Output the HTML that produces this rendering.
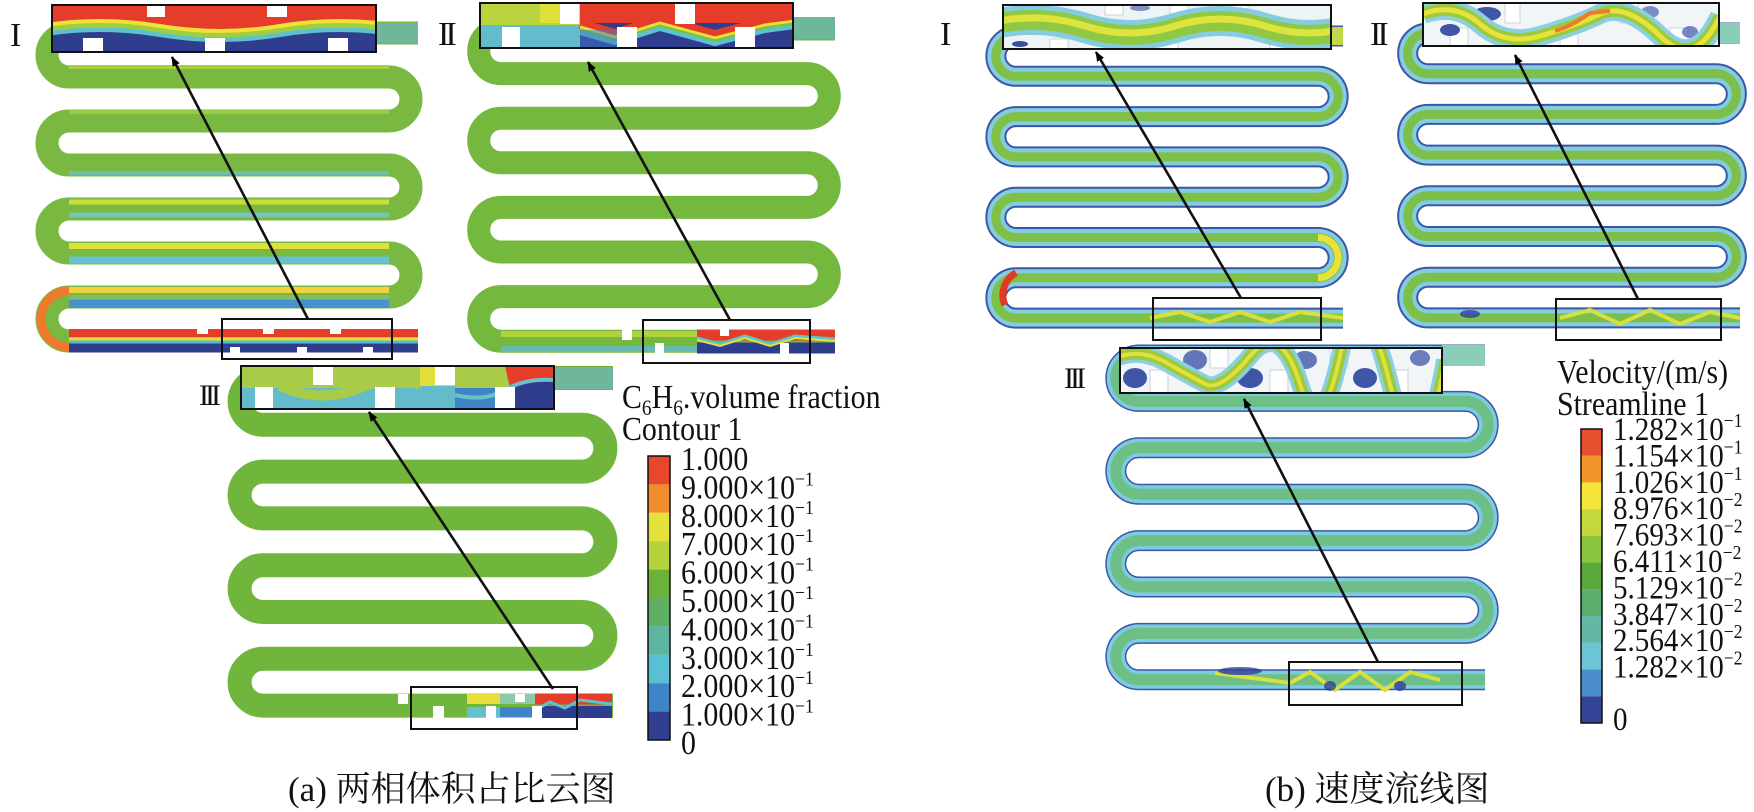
<!DOCTYPE html>
<html><head><meta charset="utf-8"><style>
html,body{margin:0;padding:0;background:#fff;}
svg{display:block;}
text{font-family:"Liberation Serif","Noto Serif CJK SC",serif;fill:#111;}
.cap{font-family:"Liberation Serif","Noto Serif CJK SC",serif;}
</style></head><body>
<svg width="1754" height="812" viewBox="0 0 1754 812" xmlns="http://www.w3.org/2000/svg">
<defs>
<marker id="ah" markerWidth="10" markerHeight="10" refX="9" refY="5" orient="auto" markerUnits="userSpaceOnUse">
<path d="M0,1 L10,5 L0,9 L2.5,5 Z" fill="#000" transform="scale(1.6) translate(-3.8,-1.9)"/>
</marker>
<path id="paI" d="M418 33 H69 A22 22 0 0 0 69 77 H389 A22 22 0 0 1 389 121 H69 A22 22 0 0 0 69 165 H389 A22 22 0 0 1 389 209 H69 A22 22 0 0 0 69 253 H389 A22 22 0 0 1 389 297 H69 A22 22 0 0 0 69 341 H418"/>
<path id="paII" d="M835 29 H501 A22.3 22.3 0 0 0 501 73.6 H807 A22.3 22.3 0 0 1 807 118.2 H501 A22.3 22.3 0 0 0 501 162.8 H807 A22.3 22.3 0 0 1 807 207.4 H501 A22.3 22.3 0 0 0 501 252 H807 A22.3 22.3 0 0 1 807 296.6 H501 A22.3 22.3 0 0 0 501 341.2 H835"/>
<path id="paIII" d="M613 378 H263 A23.4 23.4 0 0 0 263 424.8 H582 A23.4 23.4 0 0 1 582 471.6 H263 A23.4 23.4 0 0 0 263 518.4 H582 A23.4 23.4 0 0 1 582 565.2 H263 A23.4 23.4 0 0 0 263 612 H582 A23.4 23.4 0 0 1 582 658.8 H263 A23.4 23.4 0 0 0 263 705.6 H613"/>
<path id="pbI" d="M1343 36 H1016 A20.15 20.15 0 0 0 1016 76.3 H1318 A20.15 20.15 0 0 1 1318 116.6 H1016 A20.15 20.15 0 0 0 1016 156.9 H1318 A20.15 20.15 0 0 1 1318 197.2 H1016 A20.15 20.15 0 0 0 1016 237.5 H1318 A20.15 20.15 0 0 1 1318 277.8 H1016 A20.15 20.15 0 0 0 1016 318.1 H1343"/>
<path id="pbII" d="M1740 33 H1428 A20.35 20.35 0 0 0 1428 73.7 H1716 A20.35 20.35 0 0 1 1716 114.4 H1428 A20.35 20.35 0 0 0 1428 155.1 H1716 A20.35 20.35 0 0 1 1716 195.8 H1428 A20.35 20.35 0 0 0 1428 236.5 H1716 A20.35 20.35 0 0 1 1716 277.2 H1428 A20.35 20.35 0 0 0 1428 317.9 H1740"/>
<path id="pbIII" d="M1485 355 H1139 A23.2 23.2 0 0 0 1139 401.4 H1465 A23.2 23.2 0 0 1 1465 447.8 H1139 A23.2 23.2 0 0 0 1139 494.2 H1465 A23.2 23.2 0 0 1 1465 540.6 H1139 A23.2 23.2 0 0 0 1139 587 H1465 A23.2 23.2 0 0 1 1465 633.4 H1139 A23.2 23.2 0 0 0 1139 679.8 H1485"/>
<clipPath id="cAI"><rect x="52" y="5" width="324" height="47"/></clipPath>
<clipPath id="cAII"><rect x="480" y="3" width="313" height="45"/></clipPath>
<clipPath id="cAIII"><rect x="241" y="366" width="313" height="43"/></clipPath>
<clipPath id="cBI"><rect x="1003" y="5" width="328" height="44"/></clipPath>
<clipPath id="cBII"><rect x="1423" y="3" width="296" height="43"/></clipPath>
<clipPath id="cBIII"><rect x="1120" y="348" width="322" height="45"/></clipPath>
</defs>

<!-- ===== Panel (a) channels ===== -->
<g fill="none" stroke-linecap="butt">
<use href="#paI" stroke="#79b942" stroke-width="23"/>
<use href="#paII" stroke="#74b83e" stroke-width="23"/>
<use href="#paIII" stroke="#70b53c" stroke-width="24"/>
</g>
<!-- aI overlays -->
<g fill="none">
<path d="M69 67 H389" stroke="#a9cf3e" stroke-width="4"/>
<path d="M69 112 H389" stroke="#9acb42" stroke-width="4"/>
<path d="M69 173 H389" stroke="#6fbfa8" stroke-width="4"/>
<path d="M69 202 H389" stroke="#c9dc3a" stroke-width="5"/>
<path d="M69 215 H389" stroke="#78c4b6" stroke-width="5"/>
<path d="M69 246 H389" stroke="#e0e03c" stroke-width="6"/>
<path d="M69 260 H389" stroke="#67c0d4" stroke-width="7"/>
<path d="M69 290 H389" stroke="#f0d43a" stroke-width="6"/>
<path d="M69 297 H389" stroke="#7cc06a" stroke-width="4"/>
<path d="M69 304 H389" stroke="#4a8fd0" stroke-width="8"/>
<path d="M69 291 A28 28 0 0 0 69 347" stroke="#ee7a2c" stroke-width="9"/>
<path d="M69 333 H418" stroke="#e63d2a" stroke-width="8"/>
<path d="M69 339 H418" stroke="#dfe03a" stroke-width="3"/>
<path d="M69 342 H418" stroke="#56bcc8" stroke-width="3"/>
<path d="M69 348 H418" stroke="#2f3d8f" stroke-width="9"/>
</g>
<g fill="#fff">
<rect x="197" y="328" width="11" height="6"/><rect x="263" y="328" width="11" height="6"/><rect x="330" y="328" width="11" height="6"/>
<rect x="230" y="347" width="10" height="6"/><rect x="297" y="347" width="10" height="6"/><rect x="363" y="347" width="10" height="6"/>
</g>
<!-- aII outlet -->
<g fill="none">
<path d="M501 334 H700" stroke="#b2d13e" stroke-width="6"/>
<path d="M501 349 H700" stroke="#68b9b0" stroke-width="6"/>
<path d="M697 335 H835" stroke="#e63d2a" stroke-width="11"/>
<path d="M697 348 H835" stroke="#2f3d8f" stroke-width="11"/>
<polyline points="697,338 720,344 745,336 770,344 795,336 835,339" stroke="#5bc3c9" stroke-width="3"/>
<polyline points="697,340 720,346 745,338 770,346 795,338 835,341" stroke="#e6e03a" stroke-width="2"/>
</g>
<g fill="#fff"><rect x="622" y="329" width="10" height="11"/><rect x="655" y="343" width="9" height="11"/><rect x="720" y="329" width="9" height="7"/><rect x="780" y="343" width="9" height="11"/></g>
<!-- aIII outlet -->
<g fill="none">
<path d="M467 699 H500" stroke="#e8df3c" stroke-width="10"/>
<path d="M467 712 H500" stroke="#64c0cc" stroke-width="10"/>
<path d="M500 699 H535" stroke="#8ec8a8" stroke-width="10"/>
<path d="M500 712 H535" stroke="#3f84c8" stroke-width="10"/>
<path d="M535 699 H612" stroke="#e63d2a" stroke-width="11"/>
<path d="M535 712 H612" stroke="#2f3d8f" stroke-width="12"/>
<polyline points="535,710 550,702 565,708 580,700 612,704" stroke="#5bc3c9" stroke-width="3"/>
</g>
<g fill="#fff"><rect x="398" y="694" width="10" height="10"/><rect x="433" y="706" width="11" height="12"/><rect x="486" y="706" width="10" height="12"/><rect x="532" y="706" width="10" height="12"/><rect x="515" y="694" width="10" height="8"/></g>

<!-- aI top box content -->
<g clip-path="url(#cAI)">
<rect x="52" y="5" width="324" height="47" fill="#e63d2a"/>
<path d="M40 52 V35 Q100 25 160 35 T280 35 T400 35 V52 Z" fill="#2f3d8f"/>
<path d="M40 34 Q100 24 160 34 T280 34 T400 34" fill="none" stroke="#5ec2cc" stroke-width="6"/>
<path d="M40 30 Q100 20 160 30 T280 30 T400 30" fill="none" stroke="#9fcf3e" stroke-width="5"/>
<path d="M40 26 Q100 16 160 26 T280 26 T400 26" fill="none" stroke="#f0e03a" stroke-width="4"/>
<rect x="147" y="5" width="18" height="12" fill="#fff"/><rect x="267" y="5" width="20" height="12" fill="#fff"/>
<rect x="83" y="38" width="20" height="14" fill="#fff"/><rect x="205" y="38" width="20" height="14" fill="#fff"/><rect x="328" y="38" width="20" height="14" fill="#fff"/>
</g>
<rect x="376" y="23" width="42" height="20" fill="#6fb79a"/>
<!-- aII top box content -->
<g clip-path="url(#cAII)">
<rect x="480" y="3" width="313" height="45" fill="#2f3d8f"/>
<rect x="480" y="3" width="100" height="45" fill="#62bccc"/>
<rect x="480" y="3" width="100" height="22" fill="#b9d43c"/>
<rect x="540" y="3" width="40" height="20" fill="#dfe03a"/>
<rect x="580" y="3" width="213" height="20" fill="#e63d2a"/>
<polyline points="580,24 615,34 660,20 715,35 765,22 795,18" fill="none" stroke="#e63d2a" stroke-width="10"/>
<polyline points="580,27 615,37 660,23 715,38 765,25 795,21" fill="none" stroke="#e6e03a" stroke-width="3"/>
<polyline points="580,30 615,40 660,26 715,41 765,28 795,24" fill="none" stroke="#7cc048" stroke-width="3"/>
<polyline points="580,33 615,43 660,29 715,44 765,31 795,27" fill="none" stroke="#5bc3d0" stroke-width="4"/>
<rect x="580" y="30" width="40" height="18" fill="#3f7cc4" opacity="0.5"/>
<rect x="560" y="3" width="19" height="21" fill="#fff"/><rect x="675" y="3" width="20" height="21" fill="#fff"/>
<rect x="502" y="27" width="18" height="21" fill="#fff"/><rect x="617" y="27" width="20" height="21" fill="#fff"/><rect x="735" y="27" width="20" height="21" fill="#fff"/>
</g>
<rect x="793" y="17" width="42" height="22" fill="#6fb79a"/>
<!-- aIII top box content -->
<g clip-path="url(#cAIII)">
<rect x="241" y="366" width="313" height="43" fill="#62bccc"/>
<rect x="241" y="366" width="180" height="22" fill="#a8cc48"/>
<path d="M280 386 Q320 404 360 388 T420 386" fill="none" stroke="#a8cc48" stroke-width="10"/>
<rect x="420" y="366" width="40" height="20" fill="#e2df3c"/>
<rect x="455" y="366" width="55" height="22" fill="#a8cc48"/>
<rect x="455" y="388" width="55" height="21" fill="#3f84c8"/>
<rect x="510" y="366" width="44" height="43" fill="#2f3d8f"/>
<path d="M505 366 H554 V380 Q530 375 510 388 Z" fill="#e63d2a"/>
<path d="M455 395 Q485 402 505 390 T554 380" fill="none" stroke="#6cc0c8" stroke-width="4"/>
<rect x="313" y="366" width="20" height="19" fill="#fff"/><rect x="435" y="366" width="20" height="19" fill="#fff"/>
<rect x="255" y="387" width="18" height="22" fill="#fff"/><rect x="375" y="387" width="20" height="22" fill="#fff"/><rect x="495" y="387" width="20" height="22" fill="#fff"/>
</g>
<rect x="554" y="367" width="59" height="22" fill="#6fb79a"/>

<!-- ===== Panel (b) channels ===== -->
<g fill="none" stroke-linecap="butt">
<use href="#pbI" stroke="#3d56a6" stroke-width="21"/>
<use href="#pbI" stroke="#84cce0" stroke-width="17"/>
<use href="#pbI" stroke="#7fc046" stroke-width="9"/>
<use href="#pbII" stroke="#3d56a6" stroke-width="21"/>
<use href="#pbII" stroke="#84cce0" stroke-width="17"/>
<use href="#pbII" stroke="#7cbf4a" stroke-width="9"/>
<use href="#pbIII" stroke="#3d56a6" stroke-width="21"/>
<use href="#pbIII" stroke="#7ccbe0" stroke-width="18"/>
<use href="#pbIII" stroke="#6dbf86" stroke-width="11"/>
</g>
<path d="M1016 272.8 A25.15 25.15 0 0 0 1005 305" fill="none" stroke="#e23a24" stroke-width="7"/>
<path d="M1318 237.5 A20.15 20.15 0 0 1 1318 277.8" fill="none" stroke="#e8e23c" stroke-width="7"/>
<polyline points="1150,318 1180,312 1210,322 1240,312 1270,322 1300,312 1343,318" fill="none" stroke="#d9e03c" stroke-width="4"/>
<polyline points="1560,318 1590,310 1620,324 1650,310 1680,324 1710,312 1740,318" fill="none" stroke="#d9e03c" stroke-width="4"/>
<path d="M1215 673 L1290 683" stroke="#d9e03c" stroke-width="4"/>
<polyline points="1290,683 1310,672 1335,690 1360,672 1385,690 1410,672 1440,680" fill="none" stroke="#d9e03c" stroke-width="4"/>
<g fill="#2f3f98" opacity="0.8">
<ellipse cx="1470" cy="314" rx="10" ry="4"/><ellipse cx="1240" cy="671" rx="22" ry="4"/><ellipse cx="1330" cy="686" rx="6" ry="5"/><ellipse cx="1400" cy="686" rx="6" ry="5"/>
</g>

<!-- bI top box content -->
<g clip-path="url(#cBI)">
<rect x="1003" y="5" width="328" height="44" fill="#eef3f5"/>
<g fill="#fff" stroke="#c9d3dc" stroke-width="1"><rect x="1105" y="5" width="18" height="10"/><rect x="1170" y="5" width="18" height="10"/><rect x="1230" y="5" width="18" height="10"/><rect x="1050" y="39" width="18" height="10"/><rect x="1160" y="39" width="18" height="10"/><rect x="1270" y="39" width="18" height="10"/></g>
<path d="M995 24 Q1040 14 1085 28 T1175 28 T1265 28 T1355 28" fill="none" stroke="#84cce0" stroke-width="30"/>
<path d="M995 24 Q1040 14 1085 28 T1175 28 T1265 28 T1355 28" fill="none" stroke="#8fc843" stroke-width="20"/>
<path d="M995 22 Q1040 12 1085 26 T1175 26 T1265 26 T1355 26" fill="none" stroke="#dde43e" stroke-width="7"/>
<ellipse cx="1020" cy="44" rx="8" ry="3" fill="#3b4fa0"/><ellipse cx="1140" cy="8" rx="10" ry="3" fill="#3b4fa0" opacity="0.6"/>
</g>
<rect x="1331" y="27" width="12" height="18" fill="#c3d848"/>
<!-- bII top box content -->
<g clip-path="url(#cBII)">
<rect x="1423" y="3" width="296" height="43" fill="#f2f5f7"/>
<g fill="#fff" stroke="#c9d3dc" stroke-width="1"><rect x="1450" y="28" width="18" height="18"/><rect x="1505" y="3" width="15" height="20"/><rect x="1560" y="28" width="18" height="18"/><rect x="1620" y="3" width="18" height="20"/><rect x="1670" y="28" width="18" height="18"/></g>
<ellipse cx="1487" cy="14" rx="14" ry="7" fill="#3f56a8"/><ellipse cx="1450" cy="30" rx="10" ry="6" fill="#3f56a8"/><ellipse cx="1548" cy="32" rx="12" ry="7" fill="#3f56a8" opacity="0.8"/><ellipse cx="1650" cy="12" rx="9" ry="6" fill="#4a62b0" opacity="0.7"/><ellipse cx="1690" cy="32" rx="8" ry="6" fill="#3f56a8" opacity="0.7"/>
<path d="M1423 14 Q1455 2 1480 24 T1540 36 T1600 14 T1660 36 T1720 16" fill="none" stroke="#8ad0e0" stroke-width="20"/>
<path d="M1423 14 Q1455 2 1480 24 T1540 36 T1600 14 T1660 36 T1720 16" fill="none" stroke="#9cca3c" stroke-width="12"/>
<path d="M1423 14 Q1455 2 1480 24 T1540 36 T1600 14 T1660 36 T1720 16" fill="none" stroke="#e8e23c" stroke-width="5"/>
<path d="M1555 31 Q1570 27 1590 13 L1610 11" fill="none" stroke="#ee7a2c" stroke-width="4"/>
</g>
<rect x="1719" y="23" width="21" height="20" fill="#8acdb8"/>
<!-- bIII top box content -->
<g clip-path="url(#cBIII)">
<rect x="1120" y="348" width="322" height="45" fill="#f2f5f7"/>
<g fill="#fff" stroke="#c9d3dc" stroke-width="1"><rect x="1150" y="370" width="18" height="23"/><rect x="1210" y="348" width="18" height="20"/><rect x="1270" y="370" width="18" height="23"/><rect x="1330" y="348" width="18" height="20"/><rect x="1390" y="370" width="18" height="23"/></g>
<ellipse cx="1135" cy="378" rx="12" ry="10" fill="#3f56a8"/><ellipse cx="1195" cy="360" rx="12" ry="10" fill="#4a5fae" opacity="0.85"/><ellipse cx="1250" cy="378" rx="13" ry="10" fill="#3f56a8"/><ellipse cx="1305" cy="360" rx="12" ry="9" fill="#4a5fae" opacity="0.85"/><ellipse cx="1365" cy="378" rx="12" ry="10" fill="#3f56a8"/><ellipse cx="1420" cy="358" rx="10" ry="8" fill="#4a5fae" opacity="0.8"/>
<path d="M1115 358 Q1140 348 1165 362 T1205 384 T1250 356 T1300 384 T1340 356 T1390 384 T1445 360" fill="none" stroke="#8ad0e0" stroke-width="18"/>
<path d="M1115 358 Q1140 348 1165 362 T1205 384 T1250 356 T1300 384 T1340 356 T1390 384 T1445 360" fill="none" stroke="#9cca3c" stroke-width="11"/>
<path d="M1115 358 Q1140 348 1165 362 T1205 384 T1250 356 T1300 384 T1340 356 T1390 384 T1445 360" fill="none" stroke="#e2e03c" stroke-width="4"/>
</g>
<rect x="1442" y="345" width="43" height="21" fill="#8acdb8"/>

<!-- Boxes -->
<g fill="none" stroke="#111" stroke-width="2">
<rect x="52" y="5" width="324" height="47"/><rect x="222" y="319" width="170" height="40"/>
<rect x="480" y="3" width="313" height="45"/><rect x="643" y="320" width="167" height="43"/>
<rect x="241" y="366" width="313" height="43"/><rect x="411" y="687" width="166" height="42"/>
<rect x="1003" y="5" width="328" height="44"/><rect x="1153" y="298" width="168" height="42"/>
<rect x="1423" y="3" width="296" height="43"/><rect x="1556" y="299" width="165" height="41"/>
<rect x="1120" y="348" width="322" height="45"/><rect x="1289" y="662" width="173" height="43"/>
</g>
<!-- Arrows -->
<g stroke="#111" stroke-width="2.6" marker-end="url(#ah)">
<line x1="308" y1="319" x2="172" y2="57"/>
<line x1="730" y1="320" x2="588" y2="62"/>
<line x1="553" y1="689" x2="369" y2="412"/>
<line x1="1241" y1="298" x2="1096" y2="52"/>
<line x1="1638" y1="299" x2="1515" y2="55"/>
<line x1="1378" y1="662" x2="1244" y2="399"/>
</g>

<!-- Roman labels -->
<g font-size="34" letter-spacing="-4">
<text x="10" y="46">I</text>
<text x="438" y="45">II</text>
<text x="199" y="405" font-size="30">III</text>
<text x="940" y="45">I</text>
<text x="1370" y="45">II</text>
<text x="1064" y="388" font-size="30">III</text>
</g>

<!-- Legend (a) -->
<g transform="matrix(0.88 0 0 1 74.6 0)" font-size="34">
<text x="622" y="408">C<tspan font-size="22" dy="7">6</tspan><tspan dy="-7">H</tspan><tspan font-size="22" dy="7">6</tspan><tspan dy="-7">.volume fraction</tspan></text>
<text x="622" y="440">Contour 1</text>
</g>
<g stroke="none">
<rect x="648" y="456" width="22" height="28.4" fill="#e8472d"/>
<rect x="648" y="484.4" width="22" height="28.4" fill="#f08c2c"/>
<rect x="648" y="512.8" width="22" height="28.4" fill="#e6e03a"/>
<rect x="648" y="541.2" width="22" height="28.4" fill="#b4d23c"/>
<rect x="648" y="569.6" width="22" height="28.4" fill="#6bb23b"/>
<rect x="648" y="598" width="22" height="28.4" fill="#5faf62"/>
<rect x="648" y="626.4" width="22" height="28.4" fill="#5bb5a0"/>
<rect x="648" y="654.8" width="22" height="28.4" fill="#58c0d2"/>
<rect x="648" y="683.2" width="22" height="28.4" fill="#3f84c8"/>
<rect x="648" y="711.6" width="22" height="28.4" fill="#313f91"/>
</g>
<rect x="648" y="456" width="22" height="284" fill="none" stroke="#111" stroke-width="1.5"/>
<g font-size="34" transform="matrix(0.88 0 0 1 81.7 0)">
<text x="681" y="470">1.000</text>
<text x="681" y="498.4">9.000×10<tspan font-size="20" dy="-13">−1</tspan></text>
<text x="681" y="526.8">8.000×10<tspan font-size="20" dy="-13">−1</tspan></text>
<text x="681" y="555.2">7.000×10<tspan font-size="20" dy="-13">−1</tspan></text>
<text x="681" y="583.6">6.000×10<tspan font-size="20" dy="-13">−1</tspan></text>
<text x="681" y="612">5.000×10<tspan font-size="20" dy="-13">−1</tspan></text>
<text x="681" y="640.4">4.000×10<tspan font-size="20" dy="-13">−1</tspan></text>
<text x="681" y="668.8">3.000×10<tspan font-size="20" dy="-13">−1</tspan></text>
<text x="681" y="697.2">2.000×10<tspan font-size="20" dy="-13">−1</tspan></text>
<text x="681" y="725.6">1.000×10<tspan font-size="20" dy="-13">−1</tspan></text>
<text x="681" y="754">0</text>
</g>

<!-- Legend (b) -->
<g transform="matrix(0.88 0 0 1 186.8 0)" font-size="34">
<text x="1557" y="383">Velocity/(m/s)</text>
<text x="1557" y="415">Streamline 1</text>
</g>
<g>
<rect x="1581" y="429" width="21" height="26.8" fill="#e6502f"/>
<rect x="1581" y="455.7" width="21" height="26.8" fill="#f2952c"/>
<rect x="1581" y="482.5" width="21" height="26.8" fill="#f5e53a"/>
<rect x="1581" y="509.2" width="21" height="26.8" fill="#c3d83f"/>
<rect x="1581" y="535.9" width="21" height="26.8" fill="#8bc53e"/>
<rect x="1581" y="562.6" width="21" height="26.8" fill="#5aa83c"/>
<rect x="1581" y="589.4" width="21" height="26.8" fill="#5cae6e"/>
<rect x="1581" y="616.1" width="21" height="26.8" fill="#62b8a4"/>
<rect x="1581" y="642.8" width="21" height="26.8" fill="#6cc4d6"/>
<rect x="1581" y="669.5" width="21" height="26.8" fill="#4a8fcc"/>
<rect x="1581" y="696.3" width="21" height="26.7" fill="#334497"/>
</g>
<rect x="1581" y="429" width="21" height="294" fill="none" stroke="#111" stroke-width="1.5"/>
<g font-size="33" transform="matrix(0.88 0 0 1 193.6 0)">
<text x="1613" y="440">1.282×10<tspan font-size="20" dy="-13">−1</tspan></text>
<text x="1613" y="466.4">1.154×10<tspan font-size="20" dy="-13">−1</tspan></text>
<text x="1613" y="492.8">1.026×10<tspan font-size="20" dy="-13">−1</tspan></text>
<text x="1613" y="519.2">8.976×10<tspan font-size="20" dy="-13">−2</tspan></text>
<text x="1613" y="545.6">7.693×10<tspan font-size="20" dy="-13">−2</tspan></text>
<text x="1613" y="572">6.411×10<tspan font-size="20" dy="-13">−2</tspan></text>
<text x="1613" y="598.4">5.129×10<tspan font-size="20" dy="-13">−2</tspan></text>
<text x="1613" y="624.8">3.847×10<tspan font-size="20" dy="-13">−2</tspan></text>
<text x="1613" y="651.2">2.564×10<tspan font-size="20" dy="-13">−2</tspan></text>
<text x="1613" y="677.6">1.282×10<tspan font-size="20" dy="-13">−2</tspan></text>
<text x="1613" y="730">0</text>
</g>

<!-- Captions -->
<text x="288" y="801" font-size="35" class="cap">(a) 两相体积占比云图</text>
<text x="1265" y="801" font-size="35" class="cap">(b) 速度流线图</text>
</svg>
</body></html>
